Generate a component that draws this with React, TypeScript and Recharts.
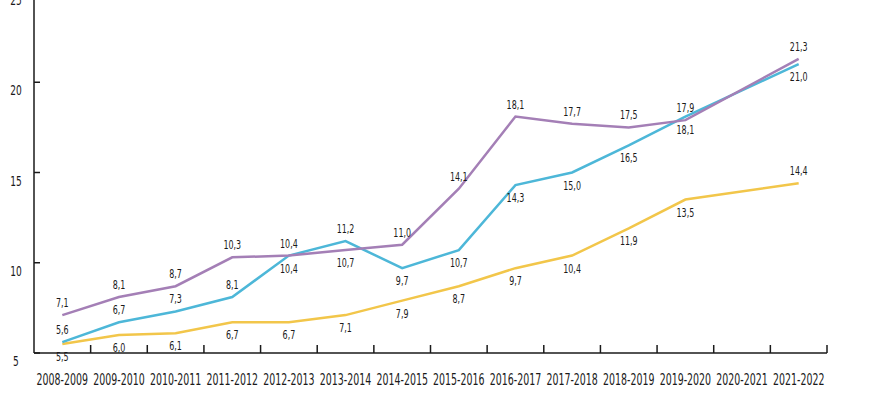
import { LineChart, Line, XAxis, YAxis, LabelList } from "recharts"

const seasons = [
  "2008-2009", "2009-2010", "2010-2011", "2011-2012", "2012-2013", "2013-2014", "2014-2015",
  "2015-2016", "2016-2017", "2017-2018", "2018-2019", "2019-2020", "2020-2021", "2021-2022",
]
const purpleValues = [7.1, 8.1, 8.7, 10.3, 10.4, 10.7, 11.0, 14.1, 18.1, 17.7, 17.5, 17.9, null, 21.3]
const cyanValues = [5.6, 6.7, 7.3, 8.1, 10.4, 11.2, 9.7, 10.7, 14.3, 15.0, 16.5, 18.1, null, 21.0]
const yellowValues = [5.5, 6.0, 6.1, 6.7, 6.7, 7.1, 7.9, 8.7, 9.7, 10.4, 11.9, 13.5, null, 14.4]
const yTicks = [5, 10, 15, 20, 25]

// which side of the line each value label sits on
const purpleAbove = [true, true, true, true, true, false, true, true, true, true, true, true, true, true]
const cyanAbove = [true, true, true, true, false, true, false, false, false, false, false, false, false, false]
const yellowAbove = [false, false, false, false, false, false, false, false, false, false, false, false, false, true]

const FONT = "'DejaVu Sans Condensed', 'DejaVu Sans', sans-serif"
const INK = "#1a1a1a"
const PLOT_W = 793
const BAND = PLOT_W / seasons.length

const data = seasons.map((season, i) => ({
  season,
  purple: purpleValues[i],
  cyan: cyanValues[i],
  yellow: yellowValues[i],
}))

const fmt = (v: number) => v.toFixed(1).replace(".", ",")

// the original uses a very narrow typeface, so squeeze DejaVu horizontally
function NarrowText({ x, y, size, sx, children }: any) {
  return (
    <text
      transform={`translate(${x} ${y}) scale(${sx} 1)`}
      textAnchor="middle"
      fontFamily={FONT}
      fontSize={size}
      fill={INK}
    >
      {children}
    </text>
  )
}

function valueLabel(above: boolean[]) {
  return (props: any) => {
    const { x, y, value, index } = props
    if (value == null) return null
    const up = above[index]
    return (
      <NarrowText x={x} y={up ? y - 8 : y + 17} size={13} sx={0.68}>
        {fmt(value)}
      </NarrowText>
    )
  }
}

function SeasonTick(props: any) {
  const { x, y, payload } = props
  return (
    <g>
      <line x1={x + BAND / 2} x2={x + BAND / 2} y1={y - 8} y2={y} stroke={INK} strokeWidth={1.5} />
      <NarrowText x={x} y={y + 32} size={15} sx={0.7}>
        {payload.value}
      </NarrowText>
    </g>
  )
}

function ValueTick(props: any) {
  const { x, y, payload } = props
  return (
    <g>
      <line x1={x} x2={x + 6} y1={y} y2={y} stroke={INK} strokeWidth={1.5} />
      <NarrowText x={x - 18} y={y + 13} size={14} sx={0.72}>
        {payload.value}
      </NarrowText>
    </g>
  )
}

export default function App() {
  return (
    <div
      style={{
        position: "fixed",
        left: 0,
        top: 0,
        width: 883,
        height: 400,
        overflow: "hidden",
        background: "#ffffff",
      }}
    >
      <LineChart
        width={883}
        height={430}
        data={data}
        margin={{ top: 22, right: 56, bottom: 0, left: 0 }}
        style={{ position: "absolute", top: -30, left: 0 }}
      >
        <XAxis
          dataKey="season"
          scale="band"
          height={47}
          interval={0}
          tickLine={false}
          tickSize={0}
          tickMargin={0}
          axisLine={{ stroke: INK, strokeWidth: 1.5 }}
          tick={<SeasonTick />}
        />
        <YAxis
          width={34}
          domain={[5, 25]}
          ticks={yTicks}
          interval={0}
          tickLine={false}
          tickSize={0}
          tickMargin={0}
          axisLine={{ stroke: INK, strokeWidth: 1.5 }}
          tick={<ValueTick />}
        />
        <Line dataKey="yellow" stroke="#f2c64a" strokeWidth={2.5} dot={false} connectNulls isAnimationActive={false}>
          <LabelList dataKey="yellow" content={valueLabel(yellowAbove)} />
        </Line>
        <Line dataKey="cyan" stroke="#4db7d8" strokeWidth={2.5} dot={false} connectNulls isAnimationActive={false}>
          <LabelList dataKey="cyan" content={valueLabel(cyanAbove)} />
        </Line>
        <Line dataKey="purple" stroke="#a47fb6" strokeWidth={2.5} dot={false} connectNulls isAnimationActive={false}>
          <LabelList dataKey="purple" content={valueLabel(purpleAbove)} />
        </Line>
      </LineChart>
    </div>
  )
}
